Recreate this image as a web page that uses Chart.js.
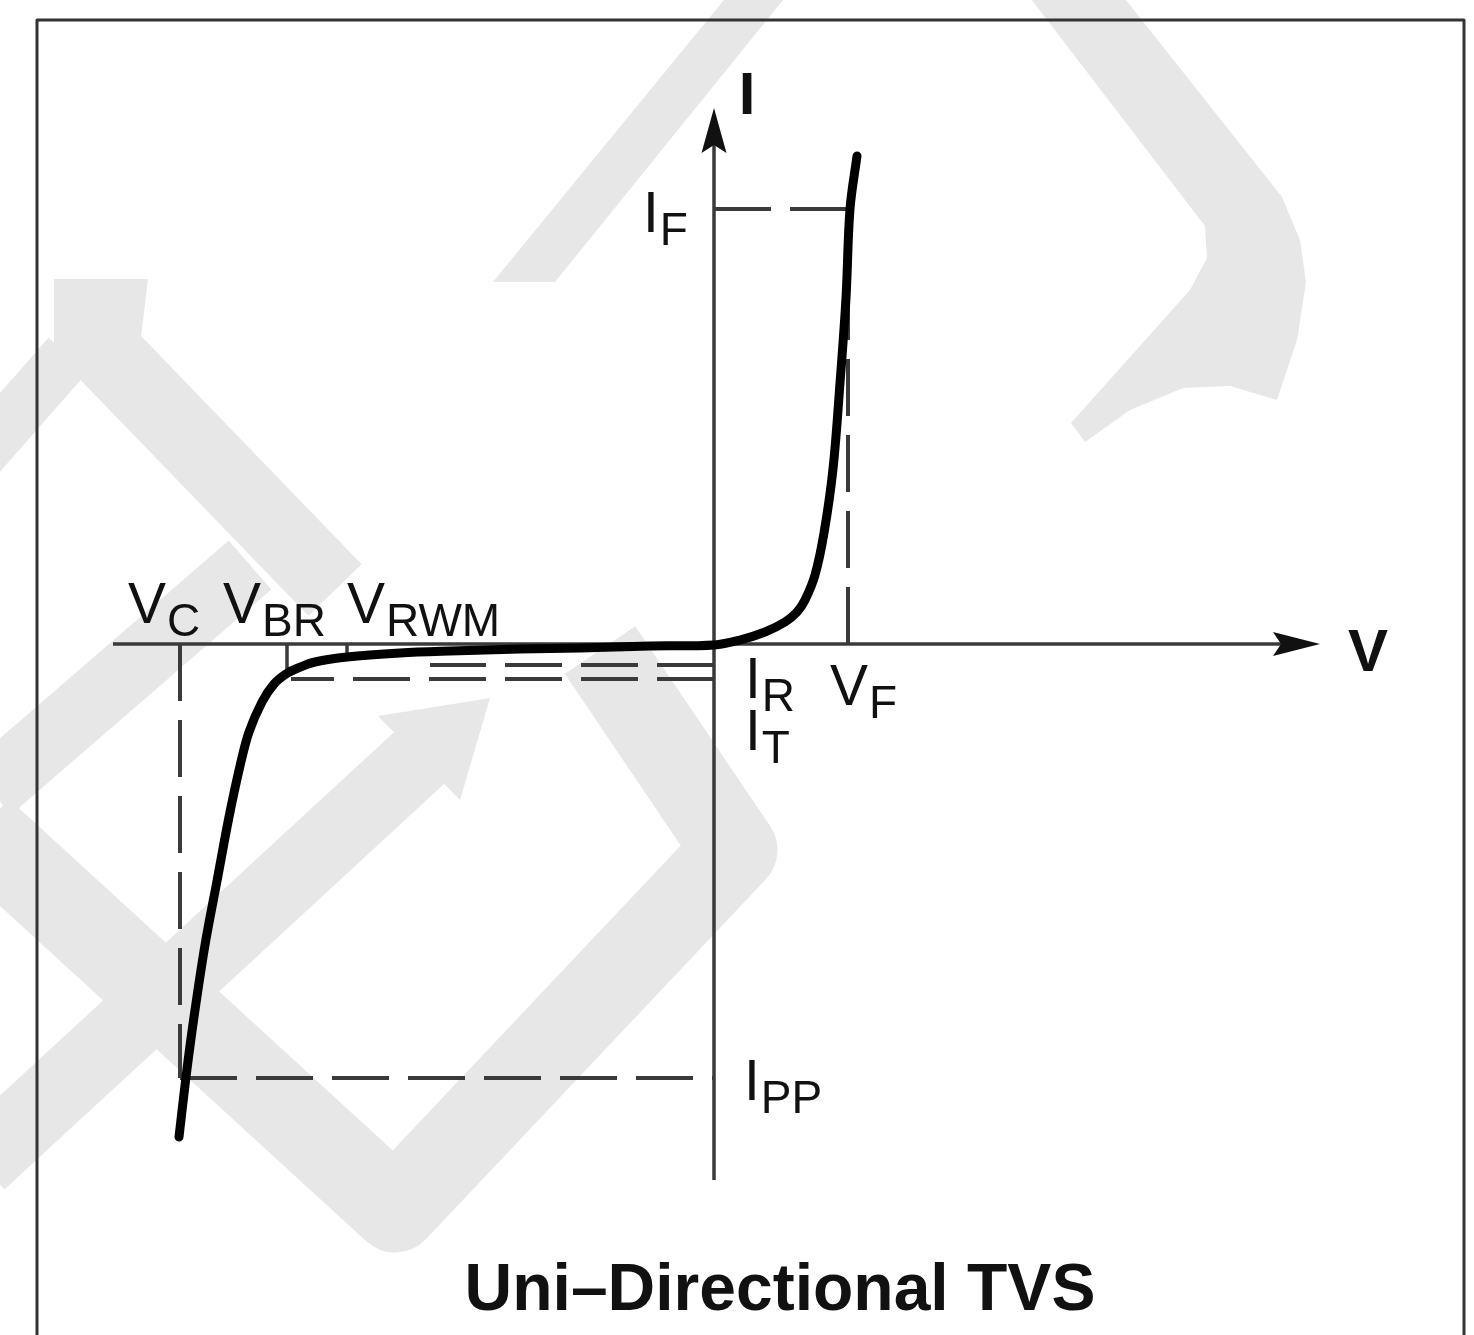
<!DOCTYPE html>
<html><head><meta charset="utf-8">
<script src="https://cdn.jsdelivr.net/npm/chart.js@4.4.1/dist/chart.umd.min.js"></script>
<style>html,body{margin:0;padding:0;background:#fff;} canvas{display:block;}</style>
</head><body>
<canvas id="c" width="1474" height="1335" style="width:1474px;height:1335px"></canvas>
<script>
// ---------- DATA (schematic units: V horizontally, I vertically) ----------
const curveV = [-5.35,-5.28,-5.20,-5.09,-4.97,-4.85,-4.74,-4.65,-4.52,-4.40,-4.28,-4.16,-3.99,-3.67,-3.14,-2.64,-1.94,-1.34,-0.64,0.00,
                0.26,0.51,0.71,0.83,0.91,1.01,1.10,1.19,1.26,1.32,1.36,1.43];
const curveI = [-4.93,-4.33,-3.73,-3.01,-2.37,-1.73,-1.22,-0.88,-0.58,-0.40,-0.30,-0.24,-0.18,-0.13,-0.09,-0.07,-0.05,-0.04,-0.02,-0.01,
                0.04,0.12,0.22,0.32,0.44,0.69,1.11,1.75,2.61,3.46,4.35,4.88];

const V_F = 1.34, I_F = 4.35;
const V_C = -5.34, I_PP = -4.34;
const V_BR = -4.27, V_RWM = -3.67;
const I_R = -0.21, I_T = -0.35;
const I_R_START = -2.84, I_T_START = -4.23, V_F_TOP = 3.6;
const V_AXIS = [-6.01, 6.06];
const I_AXIS = [-5.36, 5.36];

const labelMain = ['V','V','V','I','I','I','V','I'];
const labelSub  = ['C','BR','RWM','F','R','T','F','PP'];
const labelX    = [-5.86,-4.91,-3.67,-0.71,0.31,0.31,1.16,0.30];
const labelY    = [0.21,0.21,0.21,4.12,-0.54,-1.06,-0.61,-4.56];

const axisNames = ['I','V'];
const axisNameX = [0.33, 6.54];
const axisNameY = [5.30, -0.27];
const TITLE = 'Uni\u2013Directional TVS';
const TITLE_POS = [0.66, -6.66];

// ---------- decoration (background watermark / frame), in data units ----------
const FRAME = {left:-6.77, right:7.50, top:6.24, bottom:-7.2};
const WM_POLYS = [
  [[0.14,6.49],[0.73,6.49],[-1.59,3.62],[-2.21,3.62]],
  [[3.14,6.49],[4.08,6.49],[5.68,4.47],[5.86,4.04],[5.92,3.62],[5.83,3.04],[5.63,2.44],[5.16,2.58],[4.69,2.56],[4.16,2.34],[3.71,2.02],[3.57,2.21],[4.76,3.54],[4.93,3.86],[4.91,4.18]],
  [[-6.60,3.65],[-5.66,3.65],[-5.73,3.07],[-6.14,2.64],[-6.60,2.95]],
  [[-3.36,-0.72],[-2.24,-0.54],[-2.54,-1.56]]
];
const WM_STROKES = [
  {w:74, pts:[[-6.09,2.92],[-3.79,0.54]]},
  {w:52, pts:[[-6.46,2.89],[-7.34,1.89]]},
  {w:65, pts:[[-7.24,-1.46],[-4.64,0.79]]},
  {w:85, pts:[[-1.14,-0.06],[0.21,-2.06],[-3.19,-5.66],[-7.34,-1.86]]},
  {w:72, pts:[[-7.34,-5.19],[-2.84,-1.04]]}
];

const FONT = '"Liberation Sans", Arial, Helvetica, sans-serif';
const INK = '#111';
const GRAYLINE = '#3a3a3a';
const DASH = [57, 19];

function pts(xa, ya){ return xa.map((x,i)=>({x:x, y:ya[i]})); }
function seg(x1,y1,x2,y2){ return [{x:x1,y:y1},{x:x2,y:y2}]; }

const dashedStyle = {borderColor: GRAYLINE, borderWidth: 4, borderDash: DASH, pointRadius: 0, showLine: true, fill: false, order: 2, clip: false};
const solidStyle  = {borderColor: GRAYLINE, borderWidth: 3.5, pointRadius: 0, showLine: true, fill: false, order: 3, clip: false};

const datasets = [
  {label:'curve', data: pts(curveV, curveI), borderColor:'#000', borderWidth: 9, pointRadius:0, showLine:true,
   tension: 0.35, borderCapStyle:'round', borderJoinStyle:'round', fill:false, order:0, clip:false},
  Object.assign({label:'IF', data: seg(0, I_F, V_F, I_F)}, dashedStyle),
  Object.assign({label:'VF', data: seg(V_F, 0, V_F, V_F_TOP)}, dashedStyle),
  Object.assign({label:'VC', data: seg(V_C, 0, V_C, I_PP)}, dashedStyle),
  Object.assign({label:'IPP', data: seg(V_C, I_PP, 0, I_PP)}, dashedStyle),
  Object.assign({label:'IR', data: seg(0, I_R, I_R_START, I_R)}, dashedStyle),
  Object.assign({label:'IT', data: seg(0, I_T, I_T_START, I_T)}, dashedStyle),
  Object.assign({label:'VBRtick', data: seg(V_BR, 0, V_BR, I_T + 0.07)}, solidStyle),
  Object.assign({label:'VRWMtick', data: seg(V_RWM, 0, V_RWM, -0.16)}, solidStyle),
  Object.assign({label:'Vaxis', data: seg(V_AXIS[0], 0, V_AXIS[1] - 0.3, 0)}, solidStyle),
  Object.assign({label:'Iaxis', data: seg(0, I_AXIS[0], 0, I_AXIS[1] - 0.3)}, solidStyle)
];

const decoPlugin = {
  id: 'deco',
  beforeDatasetsDraw(chart){
    const ctx = chart.ctx, sx = chart.scales.x, sy = chart.scales.y;
    const X = v => sx.getPixelForValue(v), Y = v => sy.getPixelForValue(v);
    ctx.save();
    ctx.fillStyle = '#fff';
    ctx.fillRect(0,0,chart.width,chart.height);
    ctx.fillStyle = '#e7e7e7';
    ctx.strokeStyle = '#e7e7e7';
    WM_POLYS.forEach(p => {
      ctx.beginPath();
      p.forEach((q,i) => i ? ctx.lineTo(X(q[0]),Y(q[1])) : ctx.moveTo(X(q[0]),Y(q[1])));
      ctx.closePath(); ctx.fill();
    });
    ctx.lineJoin = 'round'; ctx.lineCap = 'butt';
    WM_STROKES.forEach(s => {
      ctx.lineWidth = s.w;
      ctx.beginPath();
      s.pts.forEach((q,i) => i ? ctx.lineTo(X(q[0]),Y(q[1])) : ctx.moveTo(X(q[0]),Y(q[1])));
      ctx.stroke();
    });
    // frame
    ctx.strokeStyle = '#333'; ctx.lineWidth = 3;
    ctx.strokeRect(X(FRAME.left), Y(FRAME.top), X(FRAME.right)-X(FRAME.left), Y(FRAME.bottom)-Y(FRAME.top));
    ctx.restore();
  },
  afterDatasetsDraw(chart){
    const ctx = chart.ctx, sx = chart.scales.x, sy = chart.scales.y;
    const X = v => sx.getPixelForValue(v), Y = v => sy.getPixelForValue(v);
    ctx.save();
    ctx.fillStyle = '#111';
    // arrow heads
    const vt = X(V_AXIS[1]), vy = Y(0);
    ctx.beginPath(); ctx.moveTo(vt, vy); ctx.lineTo(vt-47, vy-12); ctx.lineTo(vt-39, vy); ctx.lineTo(vt-47, vy+12); ctx.closePath(); ctx.fill();
    const it = Y(I_AXIS[1]), ix = X(0);
    ctx.beginPath(); ctx.moveTo(ix, it); ctx.lineTo(ix-12.5, it+45); ctx.lineTo(ix, it+37); ctx.lineTo(ix+12.5, it+45); ctx.closePath(); ctx.fill();
    // labels with subscripts
    ctx.fillStyle = INK; ctx.textBaseline = 'alphabetic'; ctx.textAlign = 'left';
    labelMain.forEach((m,i) => {
      const x = X(labelX[i]), y = Y(labelY[i]);
      ctx.font = '57px ' + FONT;
      ctx.fillText(m, x, y);
      const w = ctx.measureText(m).width;
      ctx.font = '46px ' + FONT;
      ctx.fillText(labelSub[i], x + w + 1, y + 13);
    });
    // axis names
    ctx.textAlign = 'center';
    ctx.font = 'bold 60px ' + FONT;
    axisNames.forEach((n,i) => ctx.fillText(n, X(axisNameX[i]), Y(axisNameY[i])));
    // title
    ctx.font = 'bold 66px ' + FONT;
    ctx.fillText(TITLE, X(TITLE_POS[0]), Y(TITLE_POS[1]));
    ctx.restore();
  }
};

new Chart(document.getElementById('c'), {
  type: 'scatter',
  data: { datasets },
  options: {
    responsive: false,
    maintainAspectRatio: false,
    devicePixelRatio: 1,
    animation: false,
    layout: { padding: 0 },
    plugins: { legend: {display:false}, tooltip: {enabled:false} },
    scales: {
      x: { type:'linear', display:false, min:-7.14, max:7.60 },
      y: { type:'linear', display:false, min:-6.91, max:6.44 }
    }
  },
  plugins: [decoPlugin]
});
</script>
</body></html>
